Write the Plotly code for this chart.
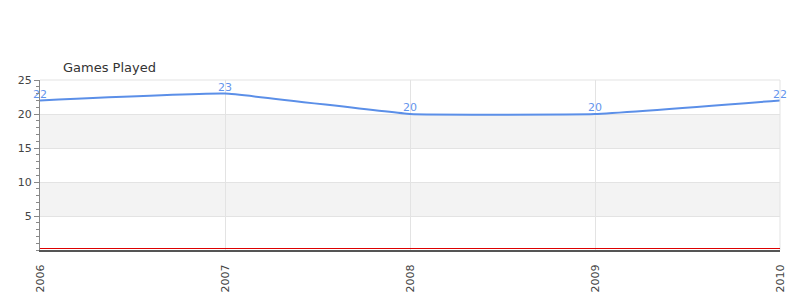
import plotly.graph_objects as go

years = [2006, 2007, 2008, 2009, 2010]
games_played = [22, 23, 20, 20, 22]
y_ticks = [5, 10, 15, 20, 25]
title_text = "Games Played"

fig = go.Figure()

# alternating bands
for lo, hi in [(5, 10), (15, 20)]:
    fig.add_shape(type="rect", xref="paper", yref="y", x0=0, x1=1, y0=lo, y1=hi,
                  fillcolor="#f3f3f3", line_width=0, layer="below")

fig.add_trace(go.Scatter(
    x=years, y=games_played, mode="lines+text",
    text=[str(v) for v in games_played], textposition="top center",
    textfont=dict(color="#6495ED", size=11, family="DejaVu Sans"),
    line=dict(color="#5b8fe8", width=2, shape="spline", smoothing=0.3),
    cliponaxis=False, hoverinfo="x+y",
))

fig.update_layout(
    width=800, height=300,
    margin=dict(l=40, r=20, t=80, b=50),
    paper_bgcolor="white", plot_bgcolor="white",
    showlegend=False,
    font=dict(family="DejaVu Sans", size=11, color="#444"),
    annotations=[dict(text=title_text, xref="paper", yref="paper", x=0.028, y=1.076,
                      xanchor="left", yanchor="middle", showarrow=False,
                      font=dict(size=13, color="#333", family="DejaVu Sans"))],
    xaxis=dict(range=[2006, 2010], tickvals=years, ticktext=[str(y) for y in years],
               tickangle=-90, showgrid=True, gridcolor="#e3e3e3", zeroline=False,
               showline=True, linecolor="#555", linewidth=2, mirror=False, ticks="",
               ticklabelstandoff=8, automargin=False,
               tickfont=dict(size=11, color="#444")),
    yaxis=dict(range=[0, 25], tickvals=y_ticks, showgrid=True, gridcolor="#e3e3e3",
               zeroline=False, automargin=False,
               showline=True, linecolor="#888", linewidth=1, ticks="outside", ticklen=5,
               tickcolor="#888",
               minor=dict(dtick=1, ticks="outside", ticklen=3, tickcolor="#888", showgrid=False),
               tickfont=dict(size=11, color="#444")),
)
# top and right border
fig.add_shape(type="line", xref="paper", yref="paper", x0=0, x1=1, y0=1, y1=1,
              line=dict(color="#e3e3e3", width=1))
fig.add_shape(type="line", xref="paper", yref="paper", x0=1, x1=1, y0=0, y1=1,
              line=dict(color="#e3e3e3", width=1))
# red zero line just above the axis line
fig.add_shape(type="line", xref="paper", yref="y", ysizemode="pixel", yanchor=0,
              x0=0, x1=1, y0=1.5, y1=1.5,
              line=dict(color="#dd0000", width=1), layer="above")

fig.write_html("out.html")
